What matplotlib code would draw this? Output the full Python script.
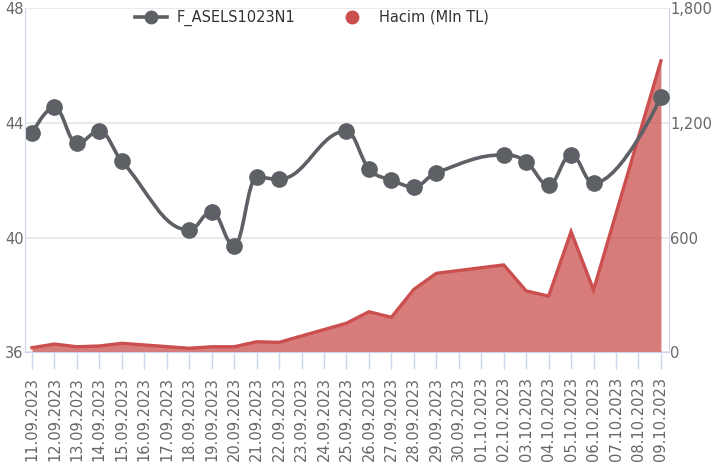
"""Price line with volume area for F_ASELS1023N1."""

import matplotlib

matplotlib.use("Agg")
import matplotlib.dates as mdates
import matplotlib.pyplot as plt
import pandas as pd
from matplotlib.lines import Line2D
from matplotlib.patches import PathPatch
from matplotlib.path import Path

dates = [
    "11.09.2023", "12.09.2023", "13.09.2023", "14.09.2023", "15.09.2023",
    "18.09.2023", "19.09.2023", "20.09.2023", "21.09.2023", "22.09.2023",
    "25.09.2023", "26.09.2023", "27.09.2023", "28.09.2023", "29.09.2023",
    "02.10.2023", "03.10.2023", "04.10.2023", "05.10.2023", "06.10.2023",
    "09.10.2023",
]
price = [
    43.64, 44.55, 43.29, 43.72, 42.67,
    40.27, 40.91, 39.72, 42.11, 42.04,
    43.72, 42.41, 42.01, 41.78, 42.27,
    42.89, 42.65, 41.84, 42.89, 41.90,
    44.90,
]
volume = [
    25, 44, 30, 34, 48,
    22, 30, 30, 56, 53,
    153, 213, 184, 330, 414,
    458, 322, 295, 632, 327,
    1525,
]
price_ticks = [36, 40, 44, 48]
volume_ticks = [0, 600, 1200, 1800]
series_names = ["F_ASELS1023N1", "Hacim (Mln TL)"]

GRAY = "#5d6065"
RED = "#cc4f4f"
AXIS = "#ccd6eb"
GRID = "#e6e6e6"
LABEL = "#666666"


def spline_path(xs, ys, smoothing=1.5):
    """Cubic bezier path through the points, smoothed like a Highcharts spline."""
    denom = smoothing + 1
    n = len(xs)
    verts = [(xs[0], ys[0])]
    codes = [Path.MOVETO]
    right = [None] * n
    for i in range(1, n):
        px, py = xs[i], ys[i]
        lx, ly = xs[i - 1], ys[i - 1]
        cx, cy = px, py
        if i < n - 1:
            nx, ny = xs[i + 1], ys[i + 1]
            cx = (smoothing * px + lx) / denom
            cy = (smoothing * py + ly) / denom
            rx = (smoothing * px + nx) / denom
            ry = (smoothing * py + ny) / denom
            corr = 0
            if rx != cx:
                corr = (ry - cy) * (rx - px) / (rx - cx) + py - ry
            cy += corr
            ry += corr
            if cy > ly and cy > py:
                cy = max(ly, py)
                ry = 2 * py - cy
            elif cy < ly and cy < py:
                cy = min(ly, py)
                ry = 2 * py - cy
            if ry > ny and ry > py:
                ry = max(ny, py)
                cy = 2 * py - ry
            elif ry < ny and ry < py:
                ry = min(ny, py)
                cy = 2 * py - ry
            right[i] = (rx, ry)
        verts += [right[i - 1] or (lx, ly), (cx, cy), (px, py)]
        codes += [Path.CURVE4] * 3
    return Path(verts, codes)


x = mdates.date2num(pd.to_datetime(dates, format="%d.%m.%Y"))

fig = plt.figure(figsize=(7.15, 4.72), dpi=100)
ax = fig.add_axes([0.035, 0.2532, 0.9007, 0.7292])
ax2 = ax.twinx()
ax.set_zorder(ax2.get_zorder() + 1)
ax.patch.set_visible(False)

# volume area on the right axis
ax2.fill_between(x, volume, 0, color=RED, alpha=0.75, lw=0, zorder=2)
ax2.plot(x, volume, color=RED, lw=2.4, solid_joinstyle="miter", zorder=3)
ax2.set_ylim(0, 1800)
ax2.set_yticks(volume_ticks)
ax2.set_yticklabels([f"{v:,}" for v in volume_ticks])
ax2.grid(axis="y", color=GRID, lw=1.2)
ax2.set_axisbelow(True)

# price spline on the left axis
ax.add_patch(PathPatch(spline_path(x, price), fill=False, edgecolor=GRAY, lw=2.6,
                       capstyle="round", joinstyle="round"))
ax.plot(x, price, ls="none", marker="o", ms=11, color=GRAY)
ax.set_ylim(36, 48)
ax.set_yticks(price_ticks)

ax.set_xlim(x[0] - 0.31, x[-1] + 0.36)
ax.xaxis.set_major_locator(mdates.DayLocator())
ax.xaxis.set_major_formatter(mdates.DateFormatter("%d.%m.%Y"))
ax.tick_params(axis="x", length=12.5, width=1, color=AXIS, pad=5,
               labelsize=10.5, labelcolor=LABEL, labelrotation=90)
for lbl in ax.get_xticklabels():
    lbl.set_verticalalignment("top")
ax.tick_params(axis="y", length=0, pad=1, labelsize=10.5, labelcolor=LABEL)
ax2.tick_params(axis="y", length=0, pad=1, labelsize=10.5, labelcolor=LABEL)

for a in (ax, ax2):
    for side in a.spines:
        a.spines[side].set_visible(False)
ax.spines["left"].set_visible(True)
ax.spines["left"].set_color(AXIS)
ax.spines["bottom"].set_visible(True)
ax.spines["bottom"].set_color(AXIS)
ax2.spines["right"].set_visible(True)
ax2.spines["right"].set_color(AXIS)

handles = [
    Line2D([], [], color=GRAY, lw=2.6, marker="o", ms=9),
    Line2D([], [], color=RED, ls="none", marker="o", ms=9),
]
fig.legend(handles, series_names, loc="center", bbox_to_anchor=(0.4357, 0.962),
           ncol=2, frameon=False, fontsize=10.5, labelcolor="#333333",
           handlelength=2.2, handletextpad=0.7, columnspacing=2.8, borderpad=0)

fig.savefig("out.png", dpi=100)
